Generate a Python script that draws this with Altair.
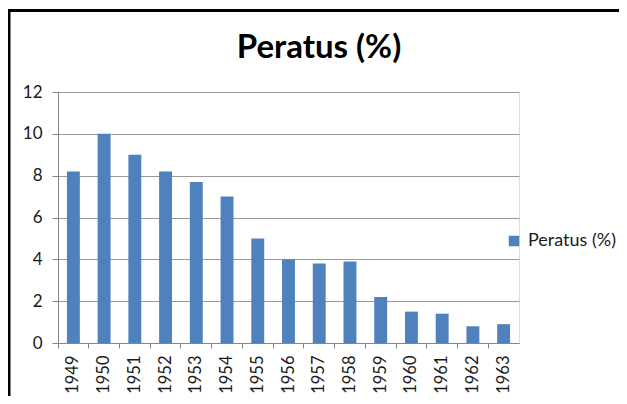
import altair as alt
import pandas as pd

years = ["1949", "1950", "1951", "1952", "1953", "1954", "1955", "1956",
         "1957", "1958", "1959", "1960", "1961", "1962", "1963"]
values = [8.2, 10.0, 9.0, 8.2, 7.7, 7.0, 5.0, 4.0, 3.8, 3.9, 2.2, 1.5, 1.4, 0.8, 0.9]
series_name = "Peratus (%)"
y_ticks = [0, 2, 4, 6, 8, 10, 12]

df = pd.DataFrame({"year": years, "value": values, "series": [series_name] * len(years)})
title_df = pd.DataFrame({"title": [series_name]})

FONT = "Lato"
W, H = 461, 251
PL, PT = 50, 84

bars = alt.Chart(df).mark_bar(width=alt.RelativeBandSize(0.42)).encode(
    x=alt.X("year:N", sort=years, title=None,
            scale=alt.Scale(paddingInner=0, paddingOuter=0),
            axis=alt.Axis(labelAngle=-90, labelFont=FONT, labelFontSize=16.5,
                          labelColor="#1a1a1a", labelPadding=7, tickSize=5,
                          tickColor="#868686", domainColor="#868686",
                          bandPosition=0, labelAlign="right", labelBaseline="middle",
                          grid=False)),
    y=alt.Y("value:Q", title=None,
            scale=alt.Scale(domain=[0, 12], nice=False),
            axis=alt.Axis(values=y_ticks, labelFont=FONT, labelFontSize=17,
                          labelColor="#1a1a1a", labelPadding=10, tickSize=6,
                          tickColor="#868686", domainColor="#868686",
                          gridColor="#9a9a9a", gridWidth=1)),
    color=alt.Color("series:N", title=None,
                    scale=alt.Scale(range=["#4F81BD"]),
                    legend=alt.Legend(orient="none", legendX=447, legendY=140,
                                      symbolType="square", symbolSize=110,
                                      symbolStrokeWidth=0,
                                      labelFont=FONT, labelFontSize=18,
                                      labelColor="#1a1a1a", labelOffset=5)),
)

title = alt.Chart(title_df).mark_text(
    font=FONT, fontSize=33, fontWeight="bold", color="black",
    align="center", baseline="middle").encode(
    text="title:N", x=alt.value(261), y=alt.value(-44))

frame_top = alt.Chart(title_df).mark_rule(color="black", strokeWidth=3).encode(
    x=alt.value(-PL), x2=alt.value(W + 100), y=alt.value(-81.5))
frame_left = alt.Chart(title_df).mark_rule(color="black", strokeWidth=3).encode(
    x=alt.value(-49), y=alt.value(-83), y2=alt.value(H + 60))

chart = alt.layer(bars, title, frame_top, frame_left).properties(
    width=W, height=H,
    autosize=alt.AutoSizeParams(type="none"),
    padding={"left": PL, "top": PT, "right": 100, "bottom": 53},
).configure_view(stroke=None).configure(background="white")

chart.save("out.html", embed_options={"renderer": "svg", "actions": False})
